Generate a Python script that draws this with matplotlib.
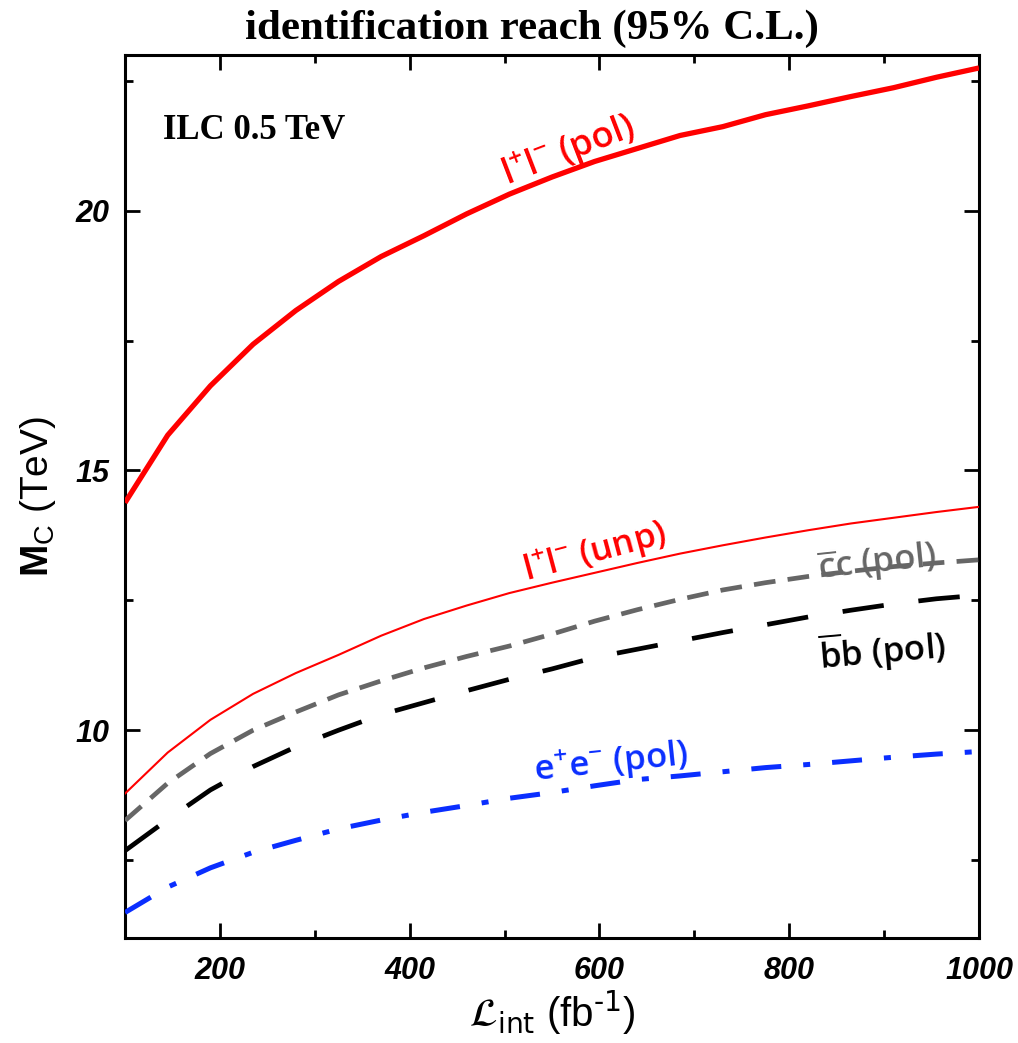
import matplotlib
matplotlib.use("Agg")
import matplotlib.pyplot as plt
from matplotlib.ticker import MultipleLocator

# Data
lumi = [100, 145, 190, 235, 280, 325, 370, 415, 460, 505, 550,
        595, 640, 685, 730, 775, 820, 865, 910, 955, 1000]
ll_pol = [14.38, 15.68, 16.63, 17.43, 18.08, 18.64, 19.12, 19.52, 19.94, 20.32, 20.65,
          20.95, 21.20, 21.45, 21.62, 21.85, 22.02, 22.20, 22.37, 22.57, 22.75]
ll_unp = [8.78, 9.57, 10.20, 10.70, 11.10, 11.45, 11.82, 12.14, 12.40, 12.64, 12.84,
          13.03, 13.22, 13.40, 13.56, 13.71, 13.85, 13.98, 14.09, 14.20, 14.30]
cc_pol = [8.26, 8.98, 9.55, 10.00, 10.35, 10.68, 10.95, 11.20, 11.42, 11.62, 11.85,
          12.10, 12.32, 12.52, 12.70, 12.84, 12.96, 13.06, 13.15, 13.22, 13.28]
bb_pol = [7.68, 8.28, 8.85, 9.30, 9.68, 10.00, 10.30, 10.53, 10.76, 10.98, 11.18,
          11.40, 11.56, 11.72, 11.88, 12.03, 12.18, 12.31, 12.43, 12.53, 12.60]
ee_pol = [6.49, 6.98, 7.35, 7.65, 7.88, 8.10, 8.27, 8.42, 8.55, 8.69, 8.80,
          8.93, 9.05, 9.12, 9.20, 9.28, 9.34, 9.41, 9.48, 9.54, 9.59]

xticks = [200, 400, 600, 800, 1000]
yticks = [10, 15, 20]

plt.rcParams["mathtext.fontset"] = "custom"
plt.rcParams["mathtext.rm"] = "Liberation Sans"
plt.rcParams["mathtext.bf"] = "Liberation Sans:bold"
plt.rcParams["mathtext.sf"] = "Open Sans:semibold"

fig = plt.figure(figsize=(10.18, 10.43), dpi=100)
ax = fig.add_axes([0.1228, 0.1007, 0.8389, 0.8466])

ax.plot(lumi, ll_pol, color="#ff0000", lw=3.8, solid_capstyle="butt", zorder=5)
ax.plot(lumi, ll_unp, color="#ff0000", lw=1.5, zorder=5)
ax.plot(lumi, cc_pol, color="#666666", lw=3.4, dashes=[4.6, 2.6],
        dash_capstyle="butt", zorder=4)
ax.plot(lumi, bb_pol, color="black", lw=3.4, dashes=[8.8, 7.4],
        dash_capstyle="butt", zorder=4)
ax.plot(lumi, ee_pol, color="#0a2eff", lw=3.6, dashes=[6.0, 4.4, 1.4, 4.4],
        dash_capstyle="butt", zorder=4)

ax.set_xlim(100, 1000)
ax.set_ylim(6, 23)
ax.set_xticks(xticks)
ax.set_yticks(yticks)
ax.xaxis.set_minor_locator(MultipleLocator(100))
ax.yaxis.set_minor_locator(MultipleLocator(2.5))

for s in ax.spines.values():
    s.set_linewidth(2.2)
ax.tick_params(which="both", direction="in", top=True, right=True, width=2.0)
ax.tick_params(which="major", length=11)
ax.tick_params(which="minor", length=6)
ax.tick_params(axis="x", which="major", pad=13)
ax.tick_params(axis="y", which="major", pad=11)

tick_font = dict(family="Liberation Sans", weight="bold", style="italic", size=22)
ax.set_xticklabels([str(t) for t in xticks], fontdict=tick_font)
ax.set_yticklabels([str(t) for t in yticks], fontdict=tick_font)

ax.set_ylabel(r"$\mathbf{M}_{\rm C}$ (TeV)", family="Liberation Sans", size=28, labelpad=13)
xl = ax.set_xlabel(r"$\mathcal{L}_{\rm int}$ (fb$^{\rm \text{-1}}$)", family="Liberation Sans",
                   size=29, labelpad=2)
xl.set_math_fontfamily("dejavusans")

fig.text(0.523, 0.972, "identification reach (95% C.L.)", ha="center", va="center",
         family="Liberation Serif", weight="bold", size=31)
ax.text(140, 21.54, "ILC 0.5 TeV", family="Liberation Serif", weight="bold", size=25,
        ha="left", va="center")

lab_font = dict(family="Open Sans", weight="semibold", size=25, ha="center", va="center")
ax.text(567, 21.15, r"l$^{\mathsf{+}}$l$^{\mathsf{-}}$ (pol)", color="#ff0000",
        rotation=21, size=26, **{k: v for k, v in lab_font.items() if k != "size"})
ax.text(595, 13.42, r"l$^{\mathsf{+}}$l$^{\mathsf{-}}$ (unp)", color="#ff0000",
        rotation=15, **lab_font)
ax.text(892, 13.22, r"$\overline{\mathsf{c}}$c (pol)", color="#666666",
        rotation=6, **lab_font)
ax.text(898, 11.54, r"$\overline{\mathsf{b}}$b (pol)", color="black",
        rotation=5, **lab_font)
ax.text(612, 9.38, r"e$^{\mathsf{+}}$e$^{\mathsf{-}}$ (pol)", color="#0a2eff",
        rotation=6, **lab_font)

fig.savefig("out.png", dpi=100)
